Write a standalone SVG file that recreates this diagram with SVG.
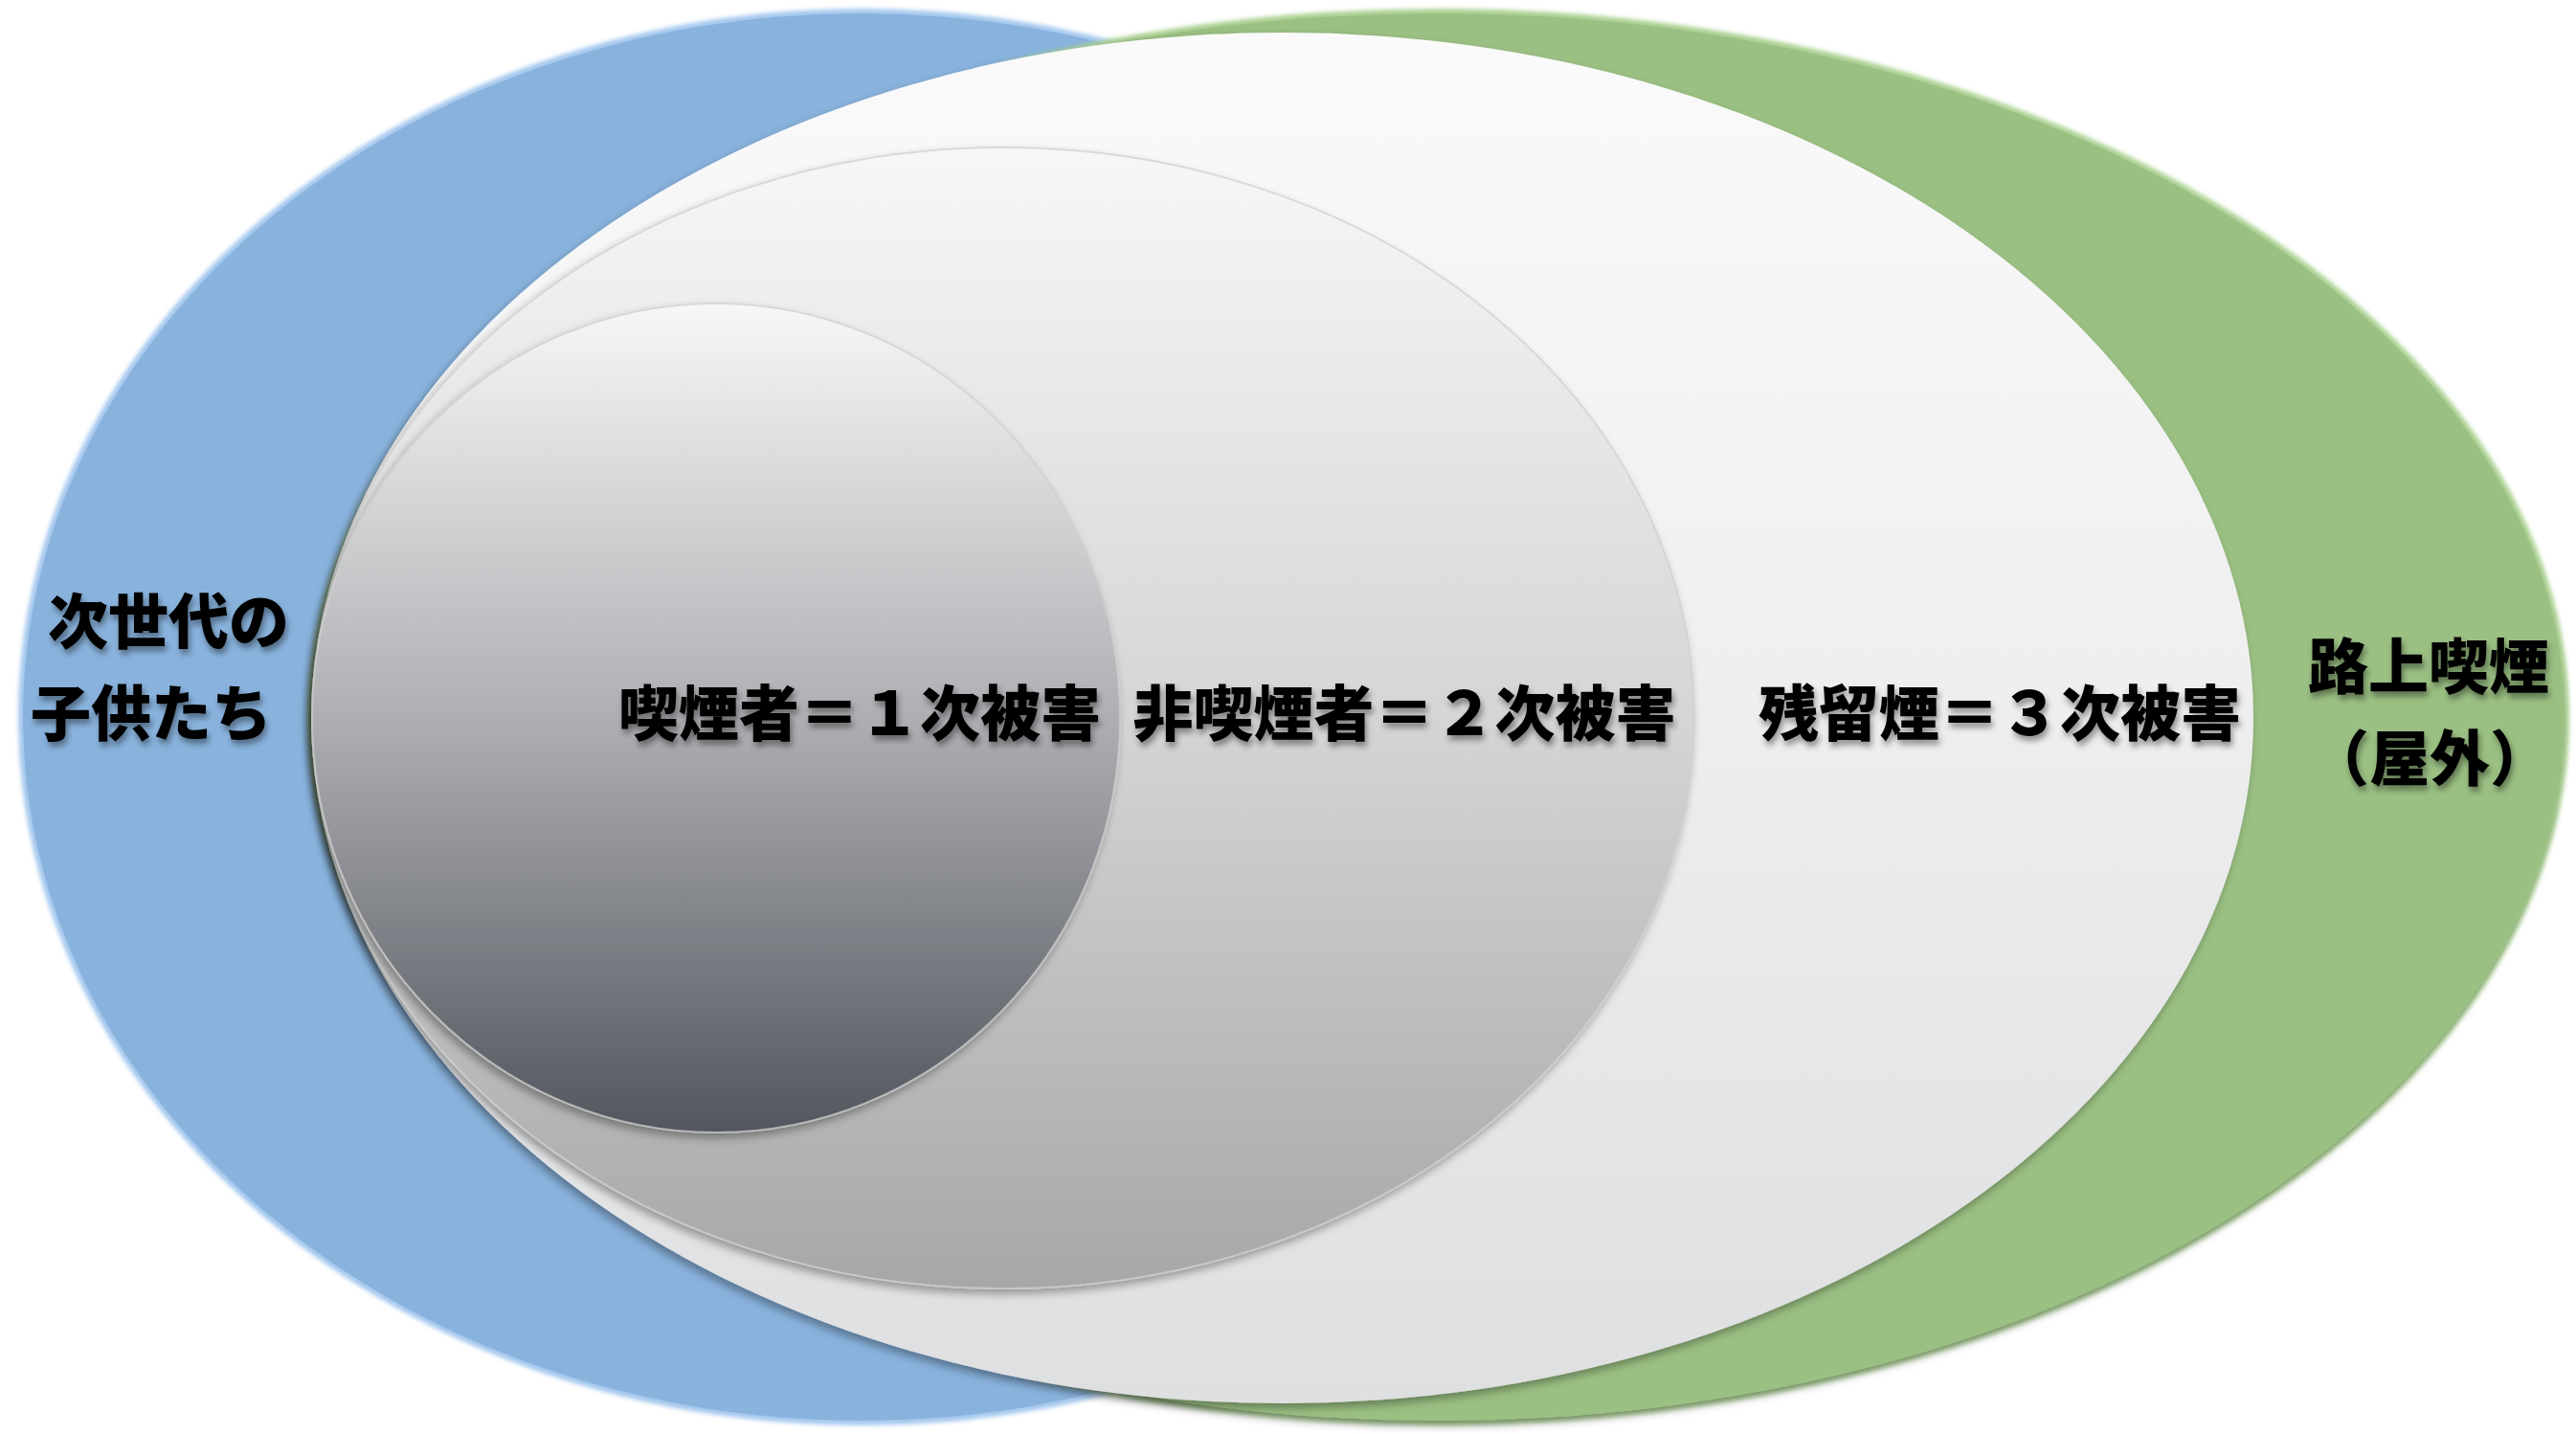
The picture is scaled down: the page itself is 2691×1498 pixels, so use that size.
<svg xmlns="http://www.w3.org/2000/svg" width="2691" height="1498" viewBox="0 0 2691 1498">
<defs>
<style>
.lbl{font-family:"Noto Sans CJK JP","Noto Sans CJK SC",sans-serif;font-weight:900;font-size:63px;fill:#000;text-anchor:middle;filter:url(#tshadow)}
.ring{stroke:#cfcfcf;stroke-opacity:0.7;stroke-width:2}
</style>
<linearGradient id="gWhite" x1="0" y1="0" x2="0" y2="1">
<stop offset="0" stop-color="#fafafa"/>
<stop offset="0.5" stop-color="#eeeeef"/>
<stop offset="1" stop-color="#dedfe1"/>
</linearGradient>
<linearGradient id="gMid" x1="0" y1="0" x2="0" y2="1">
<stop offset="0" stop-color="#f7f7f7"/>
<stop offset="0.5" stop-color="#d4d5d5"/>
<stop offset="1" stop-color="#a6a7a7"/>
</linearGradient>
<linearGradient id="gInner" x1="0" y1="0" x2="0" y2="1">
<stop offset="0" stop-color="#f7f7f7"/>
<stop offset="0.5" stop-color="#aeafb3"/>
<stop offset="1" stop-color="#52565e"/>
</linearGradient>
<filter id="shadow" x="-10%" y="-10%" width="120%" height="120%">
<feDropShadow dx="-3" dy="5" stdDeviation="5" flood-color="#000" flood-opacity="0.35"/>
</filter>
<filter id="soft" x="-5%" y="-5%" width="110%" height="110%">
<feGaussianBlur stdDeviation="2"/>
</filter>
<filter id="tshadow" x="-10%" y="-20%" width="120%" height="150%">
<feDropShadow dx="2" dy="5" stdDeviation="3" flood-color="#000" flood-opacity="0.4"/>
</filter>
</defs>
<g id="blue-set">
<ellipse cx="900" cy="749" rx="881" ry="740" fill="#a4c8ee" filter="url(#soft)"/>
<ellipse cx="900" cy="749" rx="876" ry="735" fill="#89b3dd"/>
</g>
<g id="green-set">
<ellipse cx="1503" cy="749" rx="1181" ry="740" fill="#b0d698" filter="url(#soft)"/>
<ellipse cx="1503" cy="749" rx="1176" ry="735" fill="#9bc083" filter="url(#shadow)"/>
</g>
<g id="third-hand">
<ellipse cx="1340" cy="750" rx="1014" ry="716" fill="url(#gWhite)" filter="url(#shadow)"/>
</g>
<g id="second-hand">
<ellipse class="ring" cx="1048" cy="750" rx="722" ry="596" fill="url(#gMid)" filter="url(#shadow)"/>
</g>
<g id="first-hand">
<ellipse class="ring" cx="748" cy="750" rx="422" ry="433" fill="url(#gInner)" filter="url(#shadow)"/>
</g>
<g id="labels">
<text class="lbl" x="176" y="672">次世代の</text>
<text class="lbl" x="158" y="768">子供たち</text>
<text class="lbl" x="898" y="768">喫煙者＝１次被害</text>
<text class="lbl" x="1467" y="768">非喫煙者＝２次被害</text>
<text class="lbl" x="2089" y="768">残留煙＝３次被害</text>
<text class="lbl" x="2537" y="719">路上喫煙</text>
<text class="lbl" x="2538" y="815">（屋外）</text>
</g>
</svg>
